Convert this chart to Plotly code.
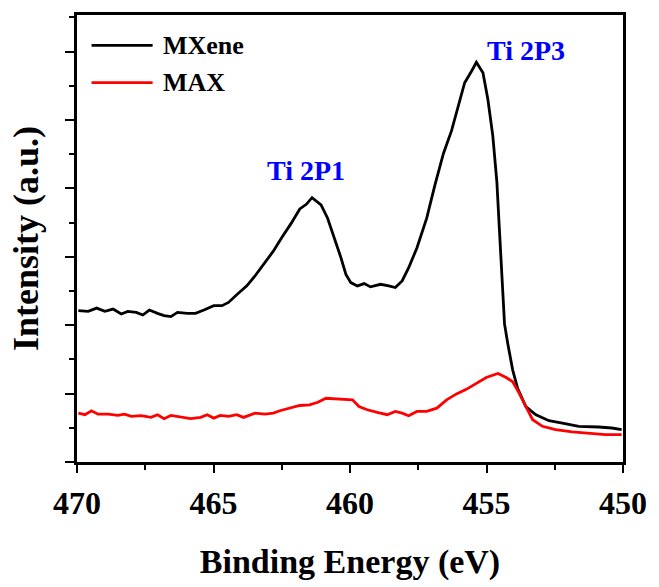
import plotly.graph_objects as go

# ---- data ----
mxene_ev = [469.95, 469.59, 469.28, 468.98, 468.68, 468.38, 468.14, 467.83, 467.59, 467.35,
            467.05, 466.81, 466.56, 466.32, 465.96, 465.66, 465.35, 464.99, 464.69, 464.45,
            464.15, 463.78, 463.48, 463.18, 462.81, 462.51, 462.15, 461.84, 461.60, 461.39,
            461.06, 460.82, 460.57, 460.33, 460.15, 459.97, 459.73, 459.48, 459.25, 458.88,
            458.58, 458.34, 458.09, 457.85, 457.55, 457.19, 456.89, 456.58, 456.28, 456.04,
            455.80, 455.55, 455.37, 455.13, 454.95, 454.77, 454.62, 454.53, 454.40, 454.34,
            454.22, 454.04, 453.86, 453.56, 453.19, 452.71, 452.22, 451.62, 450.90, 450.41,
            450.05]
mxene_int = [1527, 1520, 1553, 1520, 1543, 1493, 1520, 1510, 1483, 1533,
             1500, 1477, 1467, 1510, 1500, 1500, 1533, 1577, 1577, 1610,
             1687, 1777, 1877, 1987, 2127, 2260, 2410, 2553, 2600, 2667,
             2593, 2460, 2260, 2060, 1893, 1810, 1777, 1800, 1767, 1793,
             1777, 1760, 1827, 1960, 2160, 2460, 2793, 3110, 3343, 3593,
             3827, 3943, 4033, 3927, 3660, 3293, 2827, 2360, 1727, 1393,
             1193, 927, 743, 560, 477, 417, 393, 360, 353, 343,
             327]

max_ev = [469.95, 469.71, 469.47, 469.23, 468.86, 468.50, 468.26, 468.01, 467.65, 467.29,
          467.05, 466.81, 466.56, 466.20, 465.84, 465.47, 465.23, 464.99, 464.75, 464.45,
          464.15, 463.90, 463.48, 463.11, 462.81, 462.57, 462.21, 461.84, 461.48, 461.18,
          460.88, 460.52, 460.15, 459.91, 459.67, 459.37, 459.00, 458.64, 458.34, 458.09,
          457.85, 457.55, 457.19, 456.82, 456.46, 456.10, 455.74, 455.37, 455.01, 454.58,
          454.28, 454.04, 453.80, 453.56, 453.31, 452.95, 452.47, 451.86, 451.26, 450.65,
          450.05]
max_int = [493, 477, 517, 483, 483, 470, 483, 460, 467, 450,
           477, 437, 470, 450, 437, 450, 477, 443, 470, 460,
           477, 450, 493, 483, 493, 517, 543, 570, 577, 603,
           643, 637, 627, 627, 560, 527, 500, 477, 510, 493,
           467, 510, 510, 543, 627, 687, 733, 793, 853, 893,
           853, 810, 693, 560, 427, 360, 327, 303, 293, 277,
           277]

series_names = ["MXene", "MAX"]
series_colors = ["#000000", "#ff0000"]
x_ticks = [470, 465, 460, 455, 450]
peak_labels = ["Ti 2P1", "Ti 2P3"]
peak_pos_ev = [461.62, 453.56]
peak_pos_int = [2940, 4150]

FONT = "Liberation Serif"

fig = go.Figure()
for xs, ys, name, col in [(mxene_ev, mxene_int, series_names[0], series_colors[0]),
                          (max_ev, max_int, series_names[1], series_colors[1])]:
    fig.add_trace(go.Scatter(x=xs, y=ys, mode="lines", name=name,
                             line=dict(color=col, width=2.8), showlegend=False))

# peak labels
for t, xv, yv in zip(peak_labels, peak_pos_ev, peak_pos_int):
    fig.add_annotation(x=xv, y=yv, text=t, showarrow=False, xanchor="center", yanchor="middle",
                       font=dict(family=FONT, size=28, color="#0000ff", weight="bold"))

# manual legend (Origin style, long line samples)
leg_y = [0.932, 0.8486]
for name, col, yy in zip(series_names, series_colors, leg_y):
    fig.add_shape(type="line", xref="paper", yref="paper", x0=0.0267, x1=0.1385, y0=yy, y1=yy,
                  line=dict(color=col, width=2.8))
    fig.add_annotation(xref="paper", yref="paper", x=0.1537, y=yy, text=name, showarrow=False,
                       xanchor="left", yanchor="middle",
                       font=dict(family=FONT, size=26, color="black", weight="bold"))

axis_common = dict(showline=True, linecolor="black", linewidth=2.5, mirror=True,
                   showgrid=False, zeroline=False, ticks="outside", tickcolor="black",
                   tickwidth=2)

fig.update_xaxes(range=[470, 450], tickvals=x_ticks, ticklen=8,
                 minor=dict(ticks="outside", ticklen=5, dtick=2.5, tick0=450,
                            tickcolor="black", tickwidth=2),
                 tickfont=dict(family=FONT, size=32, color="black", weight="bold"),
                 ticklabelstandoff=3,
                 title=dict(text="Binding Energy (eV)", standoff=30,
                            font=dict(family=FONT, size=34, color="black", weight="bold")),
                 **axis_common)
fig.update_yaxes(range=[0, 4510], dtick=690, tick0=0, ticklen=9, showticklabels=False,
                 minor=dict(ticks="outside", ticklen=5, dtick=345, tick0=0,
                            tickcolor="black", tickwidth=2),
                 title=dict(text="Intensity (a.u.)", standoff=16,
                            font=dict(family=FONT, size=36, color="black", weight="bold")),
                 **axis_common)

fig.update_layout(width=659, height=587, margin=dict(l=77, r=31, t=15, b=121),
                  plot_bgcolor="white", paper_bgcolor="white")

fig.write_html("out.html")
